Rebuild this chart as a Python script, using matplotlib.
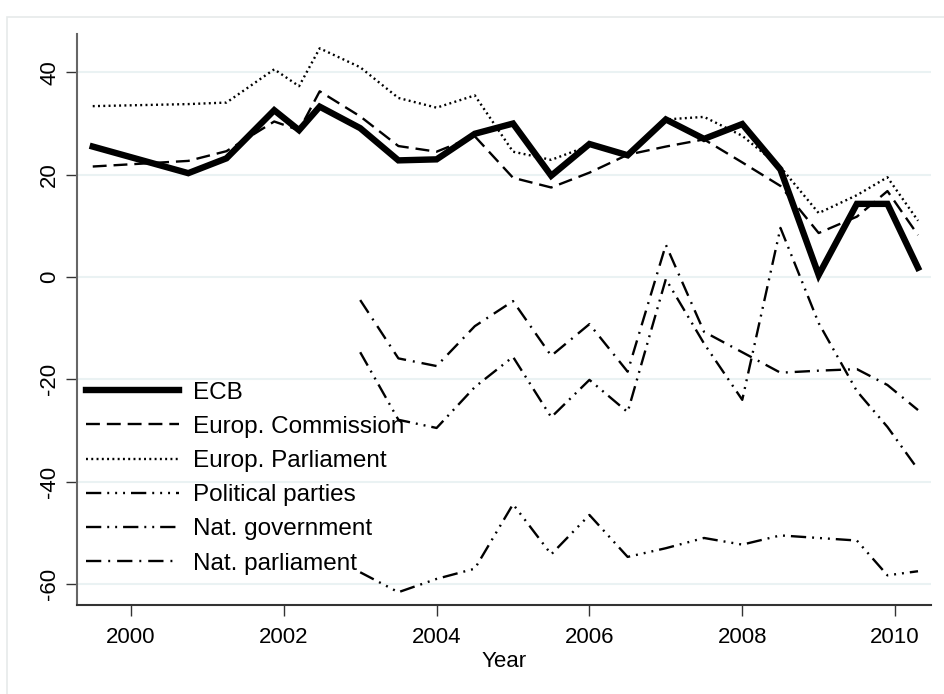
import matplotlib
matplotlib.use("Agg")
import matplotlib.pyplot as plt
from matplotlib.patches import Rectangle

plt.rcParams['font.family'] = ['Liberation Sans', 'DejaVu Sans']
plt.rcParams['lines.scale_dashes'] = False

years_eu = [1999.5, 2000.75, 2001.25, 2001.875, 2002.2, 2002.47, 2003.0, 2003.5,
            2004.0, 2004.5, 2005.0, 2005.5, 2006.0, 2006.5, 2007.0, 2007.5,
            2008.0, 2008.5, 2009.0, 2009.5, 2009.9, 2010.3]
ecb = [25.5, 20.3, 23.2, 32.6, 28.7, 33.3, 29.1, 22.8, 23.0, 28.0, 30.0, 19.8,
       26.0, 23.8, 30.8, 27.0, 29.9, 21.0, 0.4, 14.3, 14.3, 1.8]
commission = [21.6, 22.7, 24.6, 30.4, 28.7, 36.3, 31.4, 25.6, 24.5, 27.5, 19.4, 17.5,
              20.4, 23.9, 25.5, 26.9, 22.4, 17.8, 8.6, 11.8, 16.8, 8.2]
parliament = [33.4, 33.8, 34.1, 40.6, 37.3, 44.7, 41.0, 35.0, 33.1, 35.5, 24.5, 22.9,
              25.7, 23.9, 30.8, 31.3, 27.6, 21.5, 12.5, 16.0, 19.5, 11.0]

years_nat = [2003.0, 2003.5, 2004.0, 2004.5, 2005.0, 2005.5, 2006.0, 2006.5,
             2007.0, 2007.5, 2008.0, 2008.5, 2009.0, 2009.5, 2009.9, 2010.3]
parties = [-57.7, -61.6, -59.0, -57.0, -44.4, -54.2, -46.5, -54.7,
           -53.0, -51.0, -52.3, -50.5, -51.0, -51.5, -58.3, -57.5]
nat_gov = [-14.7, -27.9, -29.5, -21.5, -15.6, -27.4, -20.1, -26.4,
           -0.4, -13.0, -24.0, 9.6, -9.0, -22.3, -29.3, -37.6]
nat_parl = [-4.5, -15.9, -17.4, -9.6, -4.7, -15.4, -9.2, -18.5,
            6.3, -10.7, -14.7, -18.7, -18.3, -18.0, -21.1, -26.0]

labels = ["ECB", "Europ. Commission", "Europ. Parliament",
          "Political parties", "Nat. government", "Nat. parliament"]
yticks = [-60, -40, -20, 0, 20, 40]
xticks = [2000, 2002, 2004, 2006, 2008, 2010]

fig = plt.figure(figsize=(9.44, 6.94), dpi=100)
fig.patch.set_facecolor('white')
# outer graph-region frame
fig.patches.append(Rectangle((7/944, -0.05), 1.0, 1 - 17/694 + 0.05,
                             transform=fig.transFigure, fill=False,
                             edgecolor='#e6eaea', linewidth=1.2))

ax = fig.add_axes([77/944, 1 - 605/694, (931 - 77)/944, (605 - 34)/694])
ax.set_facecolor('white')

lw = 1.7
ax.plot(years_eu, ecb, color='black', lw=4.6, solid_joinstyle='miter', label=labels[0], zorder=5)
ax.plot(years_eu, commission, color='black', lw=lw, linestyle=(0, (10, 5)), label=labels[1], zorder=4)
ax.plot(years_eu, parliament, color='black', lw=lw, linestyle=(0, (1.4, 2.4)), label=labels[2], zorder=4)
ax.plot(years_nat, parties, color='black', lw=lw,
        linestyle=(0, (11, 4.3, 1.4, 4.3, 1.4, 4.3, 1.4, 4.3)), label=labels[3], zorder=4)
ax.plot(years_nat, nat_gov, color='black', lw=lw,
        linestyle=(0, (11, 4.3, 1.4, 4.3, 1.4, 4.3)), label=labels[4], zorder=4)
ax.plot(years_nat, nat_parl, color='black', lw=lw,
        linestyle=(0, (11, 5, 1.4, 5)), label=labels[5], zorder=4)

ax.set_xlim(1999.294, 2010.47)
ax.set_ylim(-64.1, 47.5)
ax.set_xticks(xticks)
ax.set_yticks(yticks)
ax.set_yticklabels([str(v) for v in yticks], rotation=90, va='center')
ax.tick_params(axis='both', labelsize=16, length=8, width=1, color='#333333')
ax.tick_params(axis='y', pad=4)
ax.tick_params(axis='x', pad=8)
ax.grid(axis='y', color='#eaf2f3', lw=1.5, zorder=0)
ax.set_axisbelow(True)
for s in ['top', 'right']:
    ax.spines[s].set_visible(False)
ax.spines['left'].set_color('#666666')
ax.spines['left'].set_linewidth(1.5)
ax.spines['bottom'].set_color('#333333')
ax.spines['bottom'].set_linewidth(1.5)
ax.set_xlabel("Year", fontsize=16, labelpad=2)

leg = ax.legend(loc='lower left', bbox_to_anchor=(0.004, 0.0425), frameon=False,
                fontsize=17.5, handlelength=3.8, handletextpad=0.6,
                labelspacing=0.5, borderaxespad=0.0, borderpad=0.25)

fig.savefig("out.png", dpi=100, facecolor='white')
